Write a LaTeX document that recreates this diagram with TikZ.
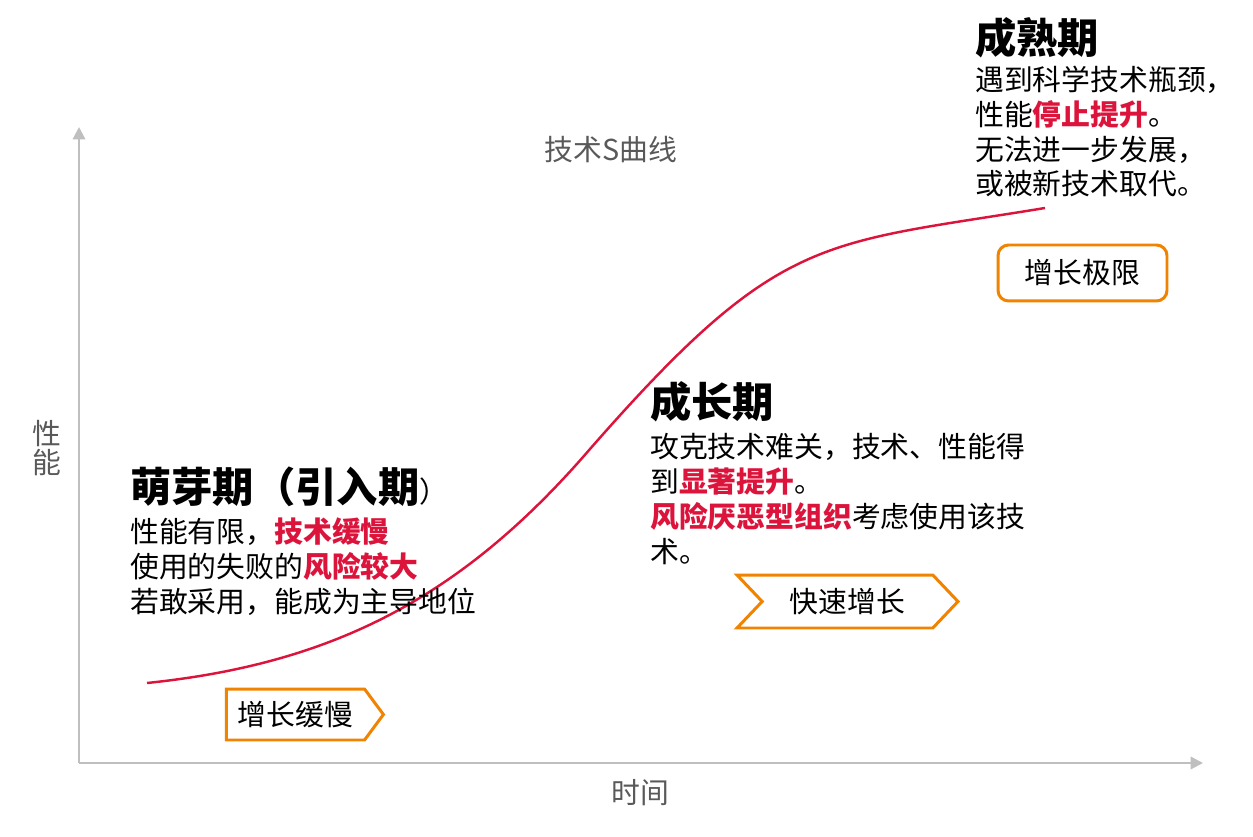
\documentclass[tikz,border=0pt]{standalone}
\usepackage{fontspec}
\setmainfont{Noto Sans CJK SC}
\usetikzlibrary{positioning, arrows.meta, shapes.symbols}
\definecolor{curvered}{RGB}{220,20,60}
\definecolor{tagorange}{RGB}{240,131,0}
\definecolor{axisgray}{RGB}{191,191,191}
\definecolor{labelgray}{RGB}{89,89,89}
\newcommand{\hl}[1]{\textbf{\textcolor{curvered}{#1}}}

\begin{document}
\begin{tikzpicture}[
    x=0.02cm, y=-0.02cm,
    body/.style={font=\fontsize{16.4}{19.8}\selectfont, align=left, inner sep=0pt, anchor=north west},
    ttl/.style={font=\fontsize{23.5}{28}\selectfont\bfseries, inner sep=0pt, anchor=west},
    lbl/.style={font=\fontsize{16.4}{16.4}\selectfont, text=labelgray, align=center, inner sep=0pt},
    tag/.style={draw=tagorange, line width=1.7pt, fill=white, font=\fontsize{16.4}{19.8}\selectfont, inner sep=0pt},
    axis/.style={draw=axisgray, line width=1.2pt, -{Triangle[length=7pt, width=7pt]}},
    scurve/.style={draw=curvered, line width=1.4pt}
]
\useasboundingbox (0,0) rectangle (1253,837);

% axes
\coordinate (o) at (79,763);
\coordinate (ytip) at (79,127);
\coordinate (xtip) at (1203,763);
\draw[axis] (o) -- (ytip);
\draw[axis] (o) -- (xtip);
\node[lbl] (xlab) at (640,793) {时间};
\node[lbl] (ylab) at (47,448) {性\\能};
\node[lbl] (title) at (611,150) {技术S曲线};

% S curve
\coordinate (cstart) at (147,683);
\coordinate (cmid) at (590,449);
\coordinate (cend) at (1045,208);
\draw[scurve] (cstart) .. controls (330,664) and (460,600) .. (cmid) .. controls (780,232) and (820,245) .. (cend);

% stages
\node[ttl] (t1) at (130,487) {萌芽期（引入期{\fontsize{16.4}{19.8}\selectfont\mdseries ）}};
\node[body, below=6pt of t1.south west, anchor=north west] (b1) {性能有限，\hl{技术缓慢}\\使用的失败的\hl{风险较大}\\若敢采用，能成为主导地位};

\node[ttl] (t2) at (650,402) {成长期};
\node[body, below=6pt of t2.south west, anchor=north west] (b2) {攻克技术难关，技术、性能得\\到\hl{显著提升}。\\\hl{风险厌恶型组织}考虑使用该技\\术。};

\node[ttl] (t3) at (975,38) {成熟期};
\node[body, below=4pt of t3.south west, anchor=north west] (b3) {遇到科学技术瓶颈，\\性能\hl{停止提升}。\\无法进一步发展，\\或被新技术取代。};

% tags
\node[tag, signal, signal to=east, signal pointer angle=107, minimum width=3.14cm, minimum height=1.02cm] (slow) at (295.5,714.5) {增长缓慢};
\node[tag, signal, signal to=east, signal from=west, signal pointer angle=93, minimum width=4.42cm, minimum height=1.06cm] (fast) at (847.5,601.5) {快速增长};
\node[tag, rectangle, rounded corners=6pt, minimum width=3.38cm, minimum height=1.12cm] (limit) at (1082.5,273) {增长极限};
\end{tikzpicture}
\end{document}
